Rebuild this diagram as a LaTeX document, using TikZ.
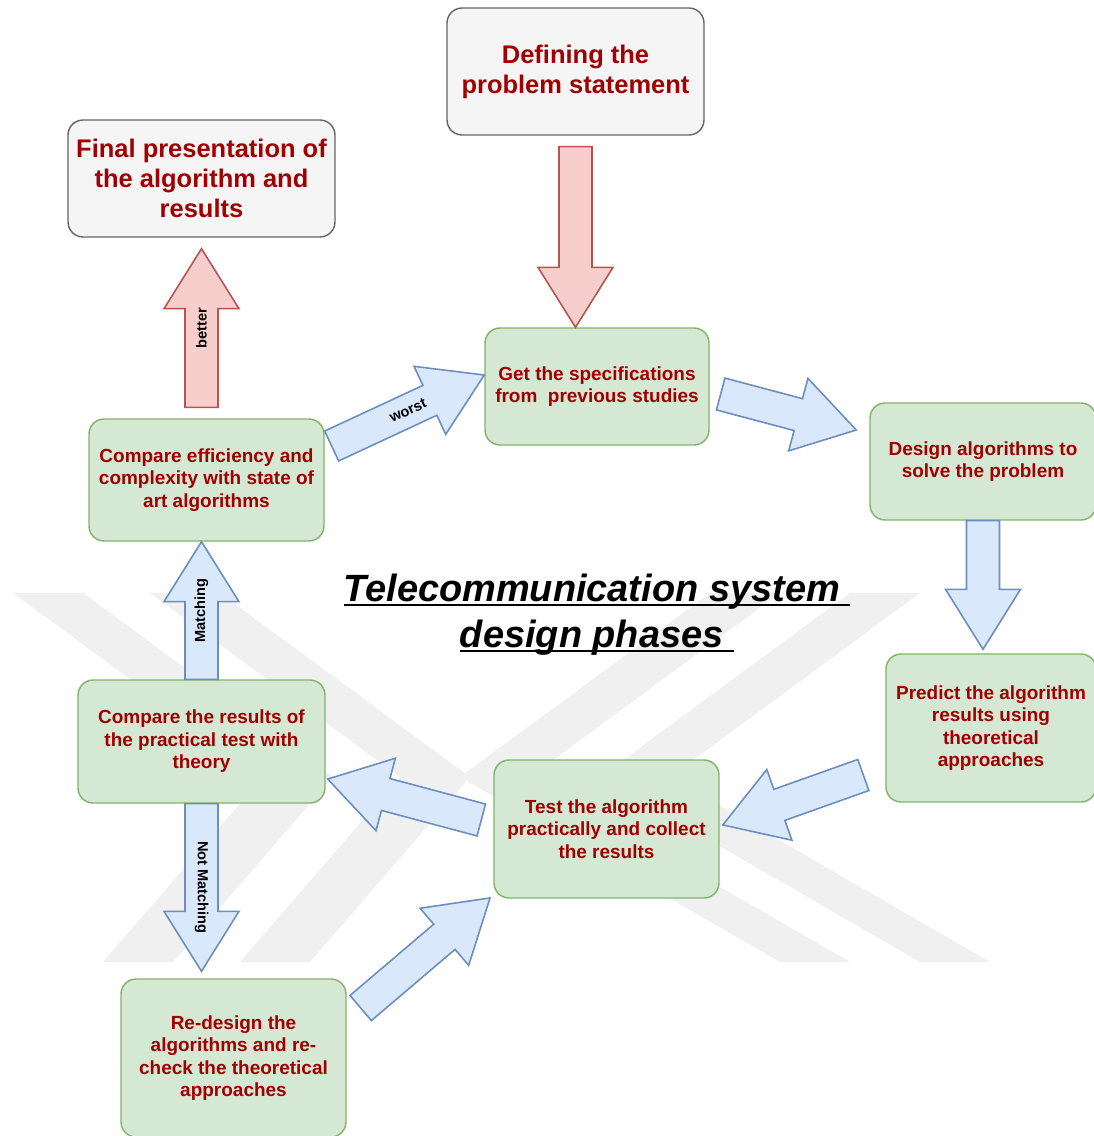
\documentclass[tikz,border=0pt]{standalone}
\usepackage{fontspec}
\setmainfont{Liberation Sans}
\usetikzlibrary{calc,positioning}
\definecolor{boxgreen}{HTML}{D5E8D4}
\definecolor{boxgreenline}{HTML}{82B366}
\definecolor{boxgrey}{HTML}{F5F5F5}
\definecolor{boxgreyline}{HTML}{666666}
\definecolor{arrblue}{HTML}{DAE8FC}
\definecolor{arrblueline}{HTML}{6C8EBF}
\definecolor{arrred}{HTML}{F8CECC}
\definecolor{arrredline}{HTML}{B85450}
\definecolor{txtred}{HTML}{A00000}
\definecolor{wmgrey}{HTML}{F0F0F0}

% thick underline for the title
\newcommand{\titleul}[1]{\setbox0\hbox{#1}\rlap{\rule[-0.12em]{\wd0}{0.07em}}\box0}

% fat arrow: [style]{tail}{tip}{label}
\newcommand{\blockarrow}[4][]{%
  \path let \p1=(#2), \p2=(#3) in
    \pgfextra{\pgfmathsetmacro\baang{atan2(\y2-\y1,\x2-\x1)}\xdef\baang{\baang}%
              \pgfmathsetmacro\balen{veclen(\x2-\x1,\y2-\y1)}\xdef\balen{\balen}};
  \begin{scope}[shift={(#2)}, rotate=\baang]
    \draw[#1] (0pt,-0.33cm) -- (\balen pt-1.2cm,-0.33cm) -- (\balen pt-1.2cm,-0.75cm)
      -- (\balen pt,0pt) -- (\balen pt-1.2cm,0.75cm) -- (\balen pt-1.2cm,0.33cm)
      -- (0pt,0.33cm) -- cycle;
    \if\relax\detokenize{#4}\relax\else
      \node[arrlabel, transform shape] at (\balen pt/2,0pt) {#4};
    \fi
  \end{scope}}

\begin{document}
\begin{tikzpicture}[x=0.02cm, y=-0.02cm,
    phase/.style={draw=boxgreenline, fill=boxgreen, rounded corners=0.3cm, line width=0.8pt,
      text=txtred, align=center, inner sep=0pt, font=\fontsize{10.8}{12.8}\selectfont\bfseries},
    endbox/.style={phase, draw=boxgreyline, fill=boxgrey, font=\fontsize{14.5}{17}\selectfont\bfseries},
    heading/.style={align=center, inner sep=0pt, font=\fontsize{21.6}{26.2}\selectfont\bfseries\itshape},
    arrlabel/.style={inner sep=0pt, font=\fontsize{8.3}{10}\selectfont\bfseries},
    bluearr/.style={draw=arrblueline, fill=arrblue, line width=0.9pt},
    redarr/.style={draw=arrredline, fill=arrred, line width=0.9pt}]
  \useasboundingbox (0,0) rectangle (1094,1136);

  % watermark
  \foreach \wx in {13,150}
    \fill[wmgrey] (\wx,593) -- ++(70,0) -- ++(250,184) -- ++(-160,185) -- ++(-70,0) -- ++(160,-185) -- cycle;
  \foreach \wx in {920,780}
    \fill[wmgrey] (\wx,593) -- ++(-70,0) -- ++(-250,184) -- ++(320,185) -- ++(70,0) -- ++(-320,-185) -- cycle;

  % boxes
  \node[endbox, minimum width=5.14cm, minimum height=2.54cm] (def) at (575.5,71.5) {Defining the\\problem statement};
  \node[endbox, minimum width=5.34cm, minimum height=2.34cm] (final) at (201.5,178.5) {Final presentation of\\the algorithm and\\results};
  \node[phase, minimum width=4.48cm, minimum height=2.34cm] (spec) at (597,386.5) {Get the specifications\\from~ previous studies};
  \node[phase, minimum width=4.52cm, minimum height=2.34cm] (design) at (983,461.5) {Design algorithms to\\solve the problem};
  \node[phase, minimum width=4.2cm, minimum height=2.96cm] (predict) at (991,728) {Predict the algorithm\\results using\\theoretical\\approaches};
  \node[phase, minimum width=4.5cm, minimum height=2.76cm] (test) at (606.5,829) {Test the algorithm\\practically and collect\\the results};
  \node[phase, minimum width=4.94cm, minimum height=2.46cm] (cmpres) at (201.5,741.5) {Compare the results of\\the practical test with\\theory};
  \node[phase, minimum width=4.7cm, minimum height=2.44cm] (cmpeff) at (206.5,480) {Compare efficiency and\\complexity with state of\\art algorithms};
  \node[phase, minimum width=4.5cm, minimum height=3.16cm] (redesign) at (233.5,1058) {Re-design the\\algorithms and re-\\check the theoretical\\approaches};

  \node[heading] (title) at (597,615) {\titleul{Telecommunication system\ }\\\titleul{design phases\ }};

  % arrows
  \blockarrow[redarr]{$(def.south)+(0,11)$}{spec.north -| def.south}{}
  \blockarrow[redarr]{$(final.south |- cmpeff.north)+(0,-11)$}{$(final.south)+(0,11)$}{better}
  \blockarrow[bluearr]{$(cmpeff.east)+(7,-34)$}{$(spec.west)+(0,-11.5)$}{worst}
  \blockarrow[bluearr]{$(spec.east)+(11,7.5)$}{$(design.west)+(-13,-31.5)$}{}
  \blockarrow[bluearr]{design.south}{$(design.south |- predict.north)+(0,-4)$}{}
  \blockarrow[bluearr]{$(predict.west)+(-22,47)$}{$(test.east)+(3,-4)$}{}
  \blockarrow[bluearr]{$(test.west)+(-12,-9)$}{$(cmpres.east)+(2,37.5)$}{}
  \blockarrow[bluearr]{cmpres.north}{cmpeff.south -| cmpres.north}{Matching}
  \blockarrow[bluearr]{cmpres.south}{$(cmpres.south |- redesign.north)+(0,-7)$}{Not Matching}
  \blockarrow[bluearr]{$(redesign.east)+(14,-50)$}{$(test.south west)+(-3,-1)$}{}
\end{tikzpicture}
\end{document}
